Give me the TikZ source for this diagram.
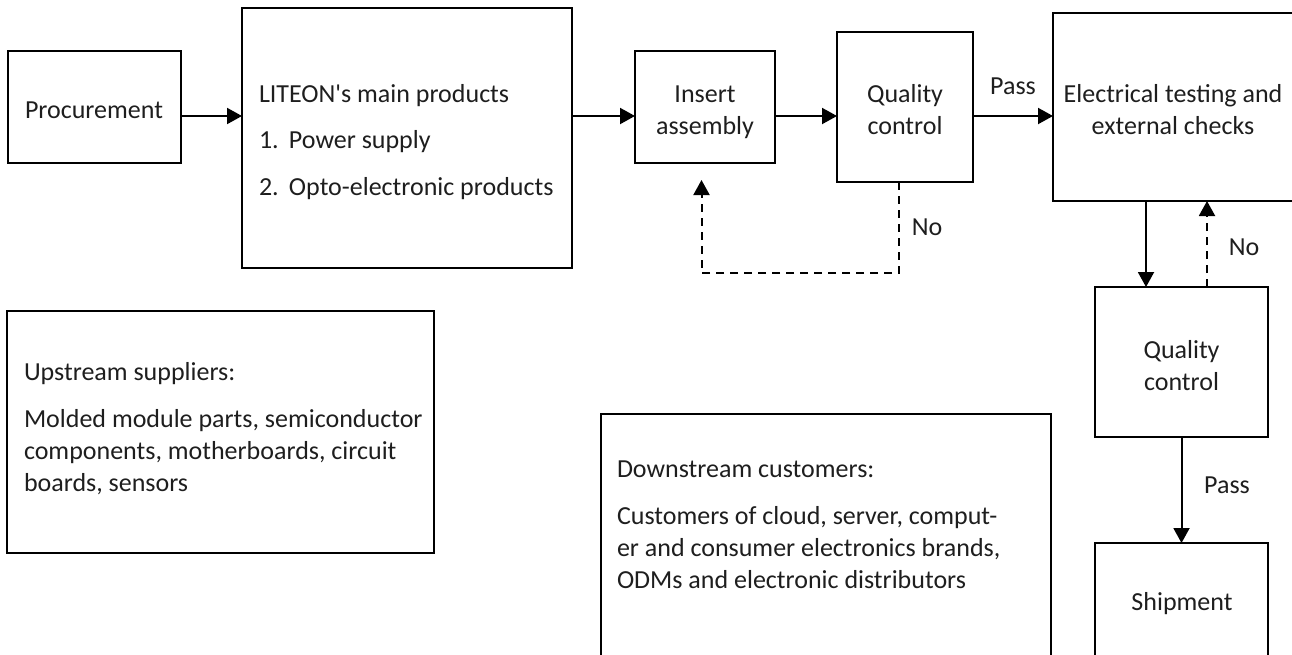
\documentclass[tikz,border=0pt]{standalone}
\usepackage{fontspec}
\setmainfont{Carlito}
\usetikzlibrary{arrows.meta}
\definecolor{txtc}{RGB}{30,30,30}
\begin{document}
\begin{tikzpicture}[x=1pt,y=-1pt,
  box/.style={draw=black,line width=1.4pt,inner sep=0pt,outer sep=0pt},
  txt/.style={inner sep=0pt,outer sep=0pt,font=\fontsize{26}{32}\selectfont,text=txtc},
  arr/.style={line width=2pt,-{Triangle[length=15pt,width=16pt]}},
  darr/.style={arr,dash pattern=on 8pt off 6pt}]
\useasboundingbox (0,0) rectangle (1292,654);
\clip (0,0) rectangle (1292,654);
% boxes
\node[box,minimum width=173pt,minimum height=112pt] (proc) at (94.5,107) {};
\node[box,minimum width=330pt,minimum height=260pt] (liteon) at (407,138) {};
\node[box,minimum width=140pt,minimum height=112pt] (insert) at (705,107) {};
\node[box,minimum width=136pt,minimum height=150pt] (qca) at (905,107) {};
\node[box,minimum width=247pt,minimum height=188pt] (elec) at (1176.5,107) {};
\node[box,minimum width=173pt,minimum height=150pt] (qcb) at (1181.5,362) {};
\node[box,minimum width=173pt,minimum height=157pt] (ship) at (1181.5,621.5) {};
\node[box,minimum width=427pt,minimum height=242pt] (up) at (220.5,432) {};
\node[box,minimum width=450pt,minimum height=286pt] (down) at (826,557) {};
% texts
\node[txt,anchor=base] (proct) at (94,118) {Procurement};
\node[txt,anchor=base west] (liteont) at (259,102) {\begin{tabular}[t]{@{}l@{}}LITEON\textquotesingle s main products\\[14.5pt]
  \makebox[30pt][l]{1.}Power supply\\[14.5pt]
  \makebox[30pt][l]{2.}Opto-electronic products\end{tabular}};
\node[txt,anchor=base] (insertt) at (705,102) {\begin{tabular}[t]{@{}c@{}}Insert\\assembly\end{tabular}};
\node[txt,anchor=base] (qcat) at (905,102) {\begin{tabular}[t]{@{}c@{}}Quality\\control\end{tabular}};
\node[txt,anchor=base] (elect) at (1173,102) {\begin{tabular}[t]{@{}c@{}}Electrical testing and\\external checks\end{tabular}};
\node[txt,anchor=base] (qcbt) at (1181.5,358) {\begin{tabular}[t]{@{}c@{}}Quality\\control\end{tabular}};
\node[txt,anchor=base] (shipt) at (1182,610) {Shipment};
\node[txt,anchor=base west] (upt) at (24,380) {\begin{tabular}[t]{@{}l@{}}Upstream suppliers:\\[15pt]
  Molded module parts, semiconductor\\
  components, motherboards, circuit\\
  boards, sensors\end{tabular}};
\node[txt,anchor=base west] (downt) at (617,477) {\begin{tabular}[t]{@{}l@{}}Downstream customers:\\[15pt]
  Customers of cloud, server, comput-\\
  er and consumer electronics brands,\\
  ODMs and electronic distributors\end{tabular}};
% labels
\node[txt,anchor=base] (passa) at (1013,94) {Pass};
\node[txt,anchor=base] (noa) at (927,235) {No};
\node[txt,anchor=base] (nob) at (1244,255) {No};
\node[txt,anchor=base] (passb) at (1227,493) {Pass};
% connectors
\coordinate (loopend) at (701.5,180);
\draw[arr] (proc.east |- 0,116) -- (liteon.west |- 0,116);
\draw[arr] (liteon.east |- 0,116) -- (insert.west |- 0,116);
\draw[arr] (insert.east |- 0,116) -- (qca.west |- 0,116);
\draw[arr] (qca.east |- 0,116) -- (elec.west |- 0,116);
\draw[darr] (qca.south -| 899,0) -- (899,273) -- (701.5,273) -- (loopend);
\draw[arr] (elec.south -| 1146,0) -- (qcb.north -| 1146,0);
\draw[darr] (qcb.north -| 1207,0) -- (elec.south -| 1207,0);
\draw[arr] (qcb.south) -- (ship.north);
\end{tikzpicture}
\end{document}
